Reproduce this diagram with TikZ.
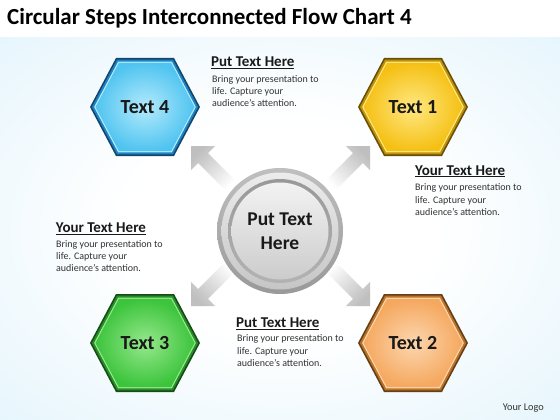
\documentclass[tikz,border=0pt]{standalone}
\usepackage{fontspec}
\setmainfont{Carlito}
\usetikzlibrary{calc}
\definecolor{bgblue}{RGB}{214,239,251}
\definecolor{blueB}{RGB}{30,130,195}
\definecolor{blueM}{RGB}{80,196,240}
\definecolor{blueL}{RGB}{180,234,252}
\definecolor{yelB}{RGB}{190,145,10}
\definecolor{yelM}{RGB}{245,192,20}
\definecolor{yelL}{RGB}{255,232,130}
\definecolor{grnB}{RGB}{40,140,40}
\definecolor{grnM}{RGB}{60,196,60}
\definecolor{grnL}{RGB}{150,232,140}
\definecolor{orgB}{RGB}{185,115,40}
\definecolor{orgM}{RGB}{245,168,95}
\definecolor{orgL}{RGB}{252,214,175}
\definecolor{bodytxt}{RGB}{50,50,50}
\pgfdeclareradialshading{bgshade}{\pgfpoint{0bp}{0bp}}{color(0bp)=(white); color(14bp)=(white); color(50bp)=(bgblue); color(75bp)=(bgblue)}
\begin{document}
\begin{tikzpicture}[x=1pt,y=-1pt,
  hexpath/.style={insert path={(-55,0) -- (-29,-49) -- (29,-49) -- (55,0) -- (29,49) -- (-29,49) -- cycle}},
  arrpath/.style={insert path={(0,0) -- (-17,17) -- (-17,7) -- (-58,7) -- (-58,-7) -- (-17,-7) -- (-17,-17) -- cycle}},
  hextext/.style={font=\fontsize{20}{22}\selectfont\bfseries, text=black!90, inner sep=0},
  centertext/.style={font=\fontsize{19.5}{24}\selectfont\bfseries, text=black!90, inner sep=0, align=center, anchor=base},
  captitle/.style={font=\fontsize{15}{18}\selectfont\bfseries, text=black!90, inner sep=0, anchor=base west},
  capbody/.style={font=\fontsize{10}{12.3}\selectfont, text=bodytxt, inner sep=0, anchor=base west, align=left},
]
% background
\fill[white] (0,0) rectangle (560,420);
\shade[shading=bgshade] (0,38) rectangle (560,420);
\useasboundingbox (0,0) rectangle (560,420);
% title
\node[font=\fontsize{23}{28}\selectfont\bfseries, inner sep=0, anchor=base west] (title) at (7,25) {Circular Steps Interconnected Flow Chart 4};
% arrows
\coordinate (tTL) at (191,146);
\coordinate (tTR) at (370,146);
\coordinate (tBL) at (191,306);
\coordinate (tBR) at (370,306);
\shade[top color=gray!50, bottom color=white, shading angle=45, shift={(tTL)}, rotate=135, arrpath];
\shade[top color=gray!50, bottom color=white, shading angle=-45, shift={(tTR)}, rotate=45, arrpath];
\shade[top color=white, bottom color=gray!50, shading angle=-45, shift={(tBL)}, rotate=-135, arrpath];
\shade[top color=white, bottom color=gray!50, shading angle=45, shift={(tBR)}, rotate=-45, arrpath];
% center circle
\coordinate (cc) at (280,231);
\shade[top color=gray!50, bottom color=gray!80] (cc) circle (63);
\shade[top color=gray!15, bottom color=gray!45] (cc) circle (58.5);
\shade[top color=gray!80, bottom color=gray!60] (cc) circle (52);
\shade[top color=gray!10, bottom color=gray!40] (cc) circle (48.5);
\node[centertext] (center) at (280,249) {Put Text\\Here};
% hexagons
\newcommand{\myhexa}[6]{%
  \coordinate (#1c) at #2;
  \fill[#3!55!black, shift={(#1c)}, hexpath];
  \fill[#3, shift={(#1c)}, scale=0.965, hexpath];
  \fill[#5, shift={(#1c)}, scale=0.925, hexpath];
  \shade[inner color=#5, outer color=#4, shift={(#1c)}, scale=0.9, hexpath];
  \node[hextext] (#1) at (#1c) {#6};
}
\myhexa{h4}{(145,107)}{blueB}{blueM}{blueL}{Text 4}
\myhexa{h1}{(413,107)}{yelB}{yelM}{yelL}{Text 1}
\myhexa{h3}{(145,343)}{grnB}{grnM}{grnL}{Text 3}
\myhexa{h2}{(413,343)}{orgB}{orgM}{orgL}{Text 2}
% captions
\node[captitle] (c1t) at (211,66.7) {\underline{Put Text Here}};
\node[capbody] (c1b) at (212,106.6) {Bring your presentation to\\life. Capture your\\audience’s attention.};
\node[captitle] (c2t) at (415,175) {\underline{Your Text Here}};
\node[capbody] (c2b) at (415,215.3) {Bring your presentation to\\life. Capture your\\audience’s attention.};
\node[captitle] (c3t) at (55.7,232.7) {\underline{Your Text Here}};
\node[capbody] (c3b) at (56,271.9) {Bring your presentation to\\life. Capture your\\audience’s attention.};
\node[captitle] (c4t) at (236,327.3) {\underline{Put Text Here}};
\node[capbody] (c4b) at (237,366.3) {Bring your presentation to\\life. Capture your\\audience’s attention.};
% logo
\node[font=\fontsize{10.3}{12}\selectfont, text=bodytxt, inner sep=0, anchor=base west] (logo) at (502.7,410) {Your Logo};
\end{tikzpicture}
\end{document}
